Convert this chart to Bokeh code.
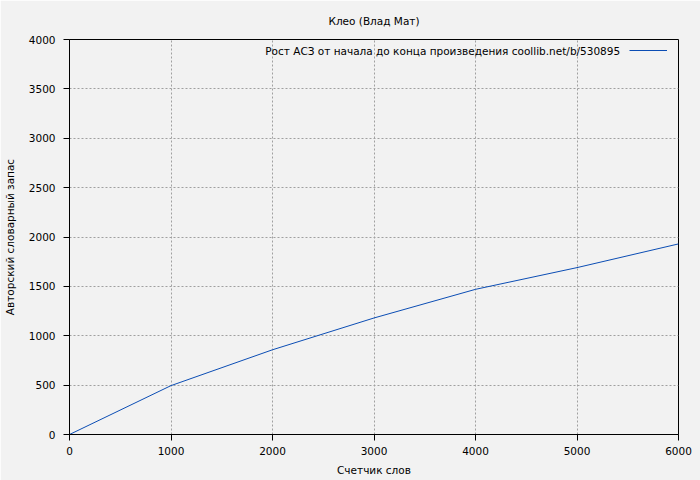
from bokeh.plotting import figure
from bokeh.models import Range1d, Label, Legend, LegendItem, FixedTicker
from bokeh.embed import file_html
from bokeh.resources import INLINE

words = [0, 1000, 2000, 3000, 4000, 5000, 6000]
vocab = [0, 495, 858, 1180, 1470, 1690, 1930]
x_ticks = [0, 1000, 2000, 3000, 4000, 5000, 6000]
y_ticks = [0, 500, 1000, 1500, 2000, 2500, 3000, 3500, 4000]

title = "Клео (Влад Мат)"
x_label = "Счетчик слов"
y_label = "Авторский словарный запас"
series_label = "Рост АСЗ от начала до конца произведения  coollib.net/b/530895"

FONT = "DejaVu Sans"
FS = "10.5px"
BG = "#f2f2f2"

p = figure(width=700, height=480, output_backend="svg", toolbar_location=None,
           x_range=Range1d(0, 6000), y_range=Range1d(0, 4000),
           min_border_left=68, min_border_right=22, min_border_top=39, min_border_bottom=46,
           background_fill_color=BG, border_fill_color=BG, title=title)

p.title.align = "center"
p.title.text_font = FONT
p.title.text_font_size = FS
p.title.text_font_style = "normal"
p.title.text_color = "black"
p.title.offset = 0
p.title.standoff = 25

p.outline_line_color = "black"
p.outline_line_width = 1

for ax, ticks in ((p.xaxis, x_ticks), (p.yaxis, y_ticks)):
    ax.ticker = FixedTicker(ticks=ticks)
    ax.axis_line_color = "black"
    ax.major_tick_line_color = "black"
    ax.major_tick_out = 6
    ax.major_tick_in = 0
    ax.minor_tick_line_color = None
    ax.major_label_text_font = FONT
    ax.major_label_text_font_size = FS
    ax.major_label_text_color = "black"
    ax.axis_label_text_font = FONT
    ax.axis_label_text_font_size = FS
    ax.axis_label_text_font_style = "normal"
    ax.axis_label_text_color = "black"

p.xaxis.axis_label = x_label
p.yaxis.axis_label = y_label
p.xaxis.major_label_standoff = 6
p.yaxis.major_label_standoff = 8
p.xaxis.axis_label_standoff = 6
p.yaxis.axis_label_standoff = 10

for g in (p.xgrid, p.ygrid):
    g.grid_line_color = "#a0a0a0"
    g.grid_line_dash = "2 2"
    g.grid_line_width = 1

r = p.line(words, vocab, line_color="#0b4db4", line_width=1)

p.add_layout(Label(x=554, y=384, x_units="screen", y_units="screen",
                   text=series_label, text_align="right", text_baseline="middle",
                   text_font=FONT, text_font_size=FS, text_color="black"))

legend = Legend(items=[LegendItem(label=" ", renderers=[r])],
                location=(560, 374), glyph_width=38, glyph_height=20,
                label_width=0, padding=0, margin=0, spacing=0,
                border_line_color=None, background_fill_alpha=0,
                label_text_font_size="1px")
p.add_layout(legend, "center")

open("out.html", "w").write(file_html(p, INLINE))
